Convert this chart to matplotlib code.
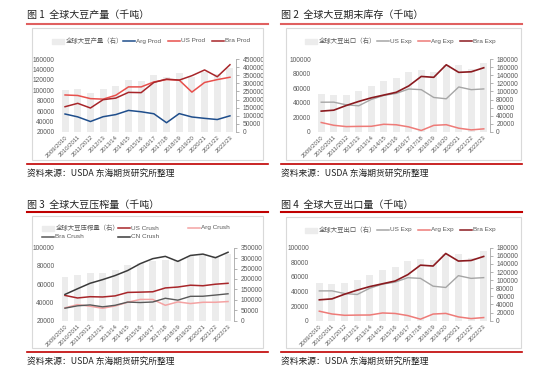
import matplotlib
matplotlib.use("Agg")
import matplotlib.pyplot as plt
from matplotlib.patches import Rectangle
from matplotlib.lines import Line2D
import numpy as np

plt.rcParams['font.family'] = ['Liberation Sans', 'Noto Sans CJK SC', 'DejaVu Sans']

seasons = ["2009/2010", "2010/2011", "2011/2012", "2012/13", "2013/14", "2014/15", "2015/16",
           "2016/17", "2017/18", "2018/19", "2019/20", "2020/21", "2021/22", "2022/23"]

# Panel 1: production
world_prod = [260000, 264000, 240000, 268000, 283000, 320000, 316000, 350000, 341000, 362000,
              340000, 368000, 358000, 392000]
arg_prod = [54500, 49000, 40100, 49300, 53400, 61400, 58800, 55000, 37800, 55300, 48800, 46200, 43900, 51000]
us_prod = [91000, 90000, 84000, 83000, 90500, 106500, 106500, 116000, 120500, 119500, 96500, 115000, 120500, 125000]
bra_prod = [68500, 75000, 66000, 82000, 85000, 96000, 95500, 115000, 121500, 119500, 128000, 139000, 126000, 149000]

# Panel 2 / 4: exports
world_exp = [92600, 91700, 92200, 101000, 112700, 126200, 132600, 147800, 153200, 148900,
             165100, 165000, 155000, 171000]
us_exp = [40800, 40900, 37200, 35900, 44600, 50100, 52900, 58900, 58000, 47300, 45500, 61700, 58000, 59000]
arg_exp = [13000, 9200, 7400, 7700, 7800, 10600, 9900, 7000, 2100, 9100, 10000, 5200, 2900, 4300]
bra_exp = [28600, 29900, 36300, 41900, 46800, 50600, 54400, 63100, 76100, 74900, 92100, 81700, 82500, 88000]

# Panel 3: crush
world_crush = [211000, 221000, 229000, 231000, 242000, 265000, 275000, 288000, 290000, 292000,
               310000, 313000, 310000, 321000]
us_crush = [47700, 44900, 46300, 46000, 47200, 51000, 51300, 51700, 55900, 56900, 58900, 58300, 60000, 61000]
arg_crush = [34100, 37600, 35900, 33600, 36200, 40200, 43300, 43300, 36900, 40600, 38800, 40200, 40200, 41000]
bra_crush = [33700, 36300, 37300, 35200, 36900, 40400, 39900, 40500, 44600, 42500, 46700, 46800, 48100, 49500]
cn_crush = [48800, 55000, 61000, 65000, 69500, 75000, 82500, 88000, 90500, 85000, 91500, 93000, 89000, 95000]

W, H = 550, 375
fig = plt.figure(figsize=(5.5, 3.75), dpi=100)
fig.patch.set_facecolor('white')

TXT = '#595959'
BAR = '#ececec'

def rect(x0, y0, x1, y1):
    return [x0 / W, 1 - y1 / H, (x1 - x0) / W, (y1 - y0) / H]

def fx(x):
    return x / W

def fy(y):
    return 1 - y / H

def frame(title, x0, x1, ty, ly, bx0, by0, bx1, by1, sy, top_color):
    fig.text(fx(x0), fy(ty), title, fontsize=7.2, color='#222222', va='center', ha='left',
             family=['Noto Sans CJK SC', 'DejaVu Sans'])
    fig.add_artist(Line2D([fx(x0), fx(x1)], [fy(ly), fy(ly)], color=top_color, lw=1.5))
    fig.add_artist(Rectangle((fx(bx0), fy(by1)), fx(bx1) - fx(bx0), fy(by0) - fy(by1),
                             fill=False, edgecolor='#d9d9d9', lw=0.8))
    fig.add_artist(Line2D([fx(x0), fx(x1)], [fy(sy), fy(sy)], color='#c00000', lw=1.2))
    fig.text(fx(x0), fy(sy + 9), "资料来源：USDA 东海期货研究所整理", fontsize=6.3, color='#222222',
             va='center', ha='left', family=['Noto Sans CJK SC', 'DejaVu Sans'])

def make_axes(r, left_lim, left_ticks, right_lim, right_ticks, bars):
    ax2 = fig.add_axes(r)
    ax = ax2.twinx()
    # bars on ax2 (left position, drawn under), but values are on right axis scale
    ax2.set_zorder(1)
    ax.set_zorder(2)
    ax.patch.set_visible(False)
    x = np.arange(len(seasons))
    # bars use right axis -> put bars on a third twin to keep scales separate
    axb = ax2
    axb.bar(x, bars, width=0.55, color=BAR, zorder=1)
    axb.set_ylim(*right_lim)
    axb.set_xlim(-0.5, len(seasons) - 0.5)
    axb.set_yticks([])
    for s in axb.spines.values():
        s.set_visible(False)
    axb.set_xticks(x)
    axb.set_xticklabels(seasons, rotation=45, ha='right', rotation_mode='anchor', fontsize=4.3, color=TXT)
    axb.tick_params(axis='x', length=0, pad=2)
    # line axis: left scale. ax is twinx -> its ticks on right by default; swap
    ax.yaxis.tick_left()
    ax.set_ylim(*left_lim)
    ax.set_yticks(left_ticks)
    ax.set_yticklabels([str(v) for v in left_ticks], fontsize=4.8, color=TXT)
    ax.tick_params(axis='y', length=0, pad=3)
    for s in ax.spines.values():
        s.set_visible(False)
    # right scale axis for labels (bars)
    axr = fig.add_axes(r, sharex=axb)
    axr.patch.set_visible(False)
    axr.set_zorder(0)
    axr.yaxis.tick_right()
    axr.set_ylim(*right_lim)
    axr.set_yticks(right_ticks)
    axr.set_yticklabels([str(v) for v in right_ticks], fontsize=4.8, color=TXT)
    axr.tick_params(axis='y', length=2.5, width=0.6, color='#a6a6a6', pad=2)
    axr.tick_params(axis='x', bottom=False, labelbottom=False)
    for k, s in axr.spines.items():
        s.set_visible(k == 'right')
    axr.spines['right'].set_color('#a6a6a6')
    axr.spines['right'].set_linewidth(0.6)
    return ax, x

def legend_patch(ax_fig_x, y, label):
    fig.add_artist(Rectangle((fx(ax_fig_x), fy(y + 2.5)), fx(12), 5 / H, color=BAR))
    fig.text(fx(ax_fig_x + 14), fy(y), label, fontsize=4.6, color=TXT, va='center', ha='left',
             family=['Noto Sans CJK SC', 'DejaVu Sans'])

def legend_line(xl, y, label, color):
    fig.add_artist(Line2D([fx(xl), fx(xl + 12)], [fy(y), fy(y)], color=color, lw=1.1))
    fig.text(fx(xl + 13), fy(y), label, fontsize=4.6, color=TXT, va='center', ha='left')

# ---------------- Panel 1 ----------------
frame("图 1  全球大豆产量（千吨）", 27, 268, 15, 24, 32, 28, 263, 160, 164, '#e06060')
ax, x = make_axes(rect(58.7, 59, 236.3, 132), (20000, 160000), list(range(20000, 160001, 20000)),
                  (0, 450000), list(range(0, 450001, 50000)), world_prod)
ax.plot(x, arg_prod, color='#1f4e8c', lw=1.1)
ax.plot(x, us_prod, color='#e8504c', lw=1.1)
ax.plot(x, bra_prod, color='#a8262a', lw=1.1)
legend_patch(52, 41, "全球大豆产量（右）")
legend_line(123, 41, "Arg Prod", '#1f4e8c')
legend_line(168, 41, "US Prod", '#e8504c')
legend_line(212, 41, "Bra Prod", '#a8262a')

# ---------------- Panel 2 ----------------
frame("图 2  全球大豆期末库存（千吨）", 281, 522, 15, 24, 286, 28, 521, 160, 164, '#e06060')
ax, x = make_axes(rect(315, 59, 490, 132), (0, 100000), list(range(0, 100001, 20000)),
                  (0, 180000), list(range(0, 180001, 20000)), world_exp)
ax.plot(x, us_exp, color='#a6a6a6', lw=1.0)
ax.plot(x, arg_exp, color='#ee7b78', lw=1.1)
ax.plot(x, bra_exp, color='#8b1a1f', lw=1.2)
legend_patch(305, 41, "全球大豆出口（右）")
legend_line(377, 41, "US Exp", '#a6a6a6')
legend_line(418, 41, "Arg Exp", '#ee7b78')
legend_line(460, 41, "Bra Exp", '#8b1a1f')

# ---------------- Panel 3 ----------------
frame("图 3  全球大豆压榨量（千吨）", 27, 268, 205, 212, 32, 216, 263, 348, 352, '#c00000')
ax, x = make_axes(rect(58.7, 247.7, 234.3, 320.7), (20000, 100000), list(range(20000, 100001, 20000)),
                  (0, 350000), list(range(0, 350001, 50000)), world_crush)
ax.plot(x, us_crush, color='#a8262a', lw=1.1)
ax.plot(x, arg_crush, color='#f4a3a3', lw=1.1)
ax.plot(x, bra_crush, color='#595959', lw=1.0)
ax.plot(x, cn_crush, color='#3a3a3a', lw=1.1)
legend_patch(42, 228, "全球大豆压榨量（右）")
legend_line(118, 228, "US Crush", '#a8262a')
legend_line(188, 228, "Arg Crush", '#f4a3a3')
legend_line(42, 236.5, "Bra Crush", '#595959')
legend_line(118, 236.5, "CN Crush", '#3a3a3a')

# ---------------- Panel 4 ----------------
frame("图 4  全球大豆出口量（千吨）", 281, 522, 205, 212, 286, 217, 521, 348, 352, '#c00000')
ax, x = make_axes(rect(313, 247.7, 490, 320.7), (0, 100000), list(range(0, 100001, 20000)),
                  (0, 180000), list(range(0, 180001, 20000)), world_exp)
ax.plot(x, us_exp, color='#a6a6a6', lw=1.0)
ax.plot(x, arg_exp, color='#ee7b78', lw=1.1)
ax.plot(x, bra_exp, color='#8b1a1f', lw=1.2)
legend_patch(305, 230, "全球大豆出口（右）")
legend_line(377, 230, "US Exp", '#a6a6a6')
legend_line(418, 230, "Arg Exp", '#ee7b78')
legend_line(460, 230, "Bra Exp", '#8b1a1f')

fig.savefig("out.png", dpi=100, facecolor='white')
